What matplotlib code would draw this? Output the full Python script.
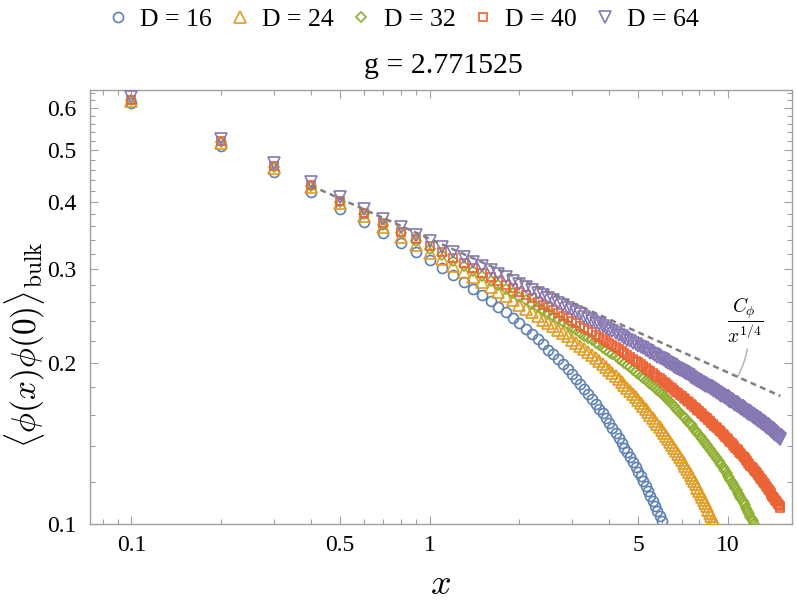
import matplotlib
matplotlib.use('Agg')
import matplotlib.pyplot as plt
from matplotlib.ticker import NullFormatter

plt.rcParams['font.family'] = ['Liberation Serif', 'DejaVu Serif']
plt.rcParams['mathtext.fontset'] = 'cm'

# sample positions (same grid for every bond dimension)
xGrid = [0.1, 0.2, 0.3, 0.4, 0.5, 0.6, 0.7, 0.8, 0.9, 1.0,
         1.1, 1.2, 1.3, 1.4, 1.5, 1.6, 1.7, 1.8, 1.9, 2.0,
         2.1, 2.2, 2.3, 2.4, 2.5, 2.6, 2.7, 2.8, 2.9, 3.0,
         3.1, 3.2, 3.3, 3.4, 3.5, 3.6, 3.7, 3.8, 3.9, 4.0,
         4.1, 4.2, 4.3, 4.4, 4.5, 4.6, 4.7, 4.8, 4.9, 5.0,
         5.1, 5.2, 5.3, 5.4, 5.5, 5.6, 5.7, 5.8, 5.9, 6.0,
         6.1, 6.2, 6.3, 6.4, 6.5, 6.6, 6.7, 6.8, 6.9, 7.0,
         7.1, 7.2, 7.3, 7.4, 7.5, 7.6, 7.7, 7.8, 7.9, 8.0,
         8.1, 8.2, 8.3, 8.4, 8.5, 8.6, 8.7, 8.8, 8.9, 9.0,
         9.1, 9.2, 9.3, 9.4, 9.5, 9.6, 9.7, 9.8, 9.9, 10.0,
         10.1, 10.2, 10.3, 10.4, 10.5, 10.6, 10.7, 10.8, 10.9, 11.0,
         11.1, 11.2, 11.3, 11.4, 11.5, 11.6, 11.7, 11.8, 11.9, 12.0,
         12.1, 12.2, 12.3, 12.4, 12.5, 12.6, 12.7, 12.8, 12.9, 13.0,
         13.1, 13.2, 13.3, 13.4, 13.5, 13.6, 13.7, 13.8, 13.9, 14.0,
         14.1, 14.2, 14.3, 14.4, 14.5, 14.6, 14.7, 14.8, 14.9, 15.0]

# correlator values (points below 0.1 are outside the frame)
corrD16 = [0.6124, 0.5098, 0.4557, 0.4182, 0.3889, 0.3671, 0.3501, 0.3356, 0.3232, 0.3115,
           0.3015, 0.2922, 0.2835, 0.2756, 0.2682, 0.2614, 0.2550, 0.2488, 0.2430, 0.2374,
           0.2319, 0.2267, 0.2216, 0.2166, 0.2119, 0.2075, 0.2032, 0.1991, 0.1950, 0.1910,
           0.1870, 0.1830, 0.1791, 0.1753, 0.1715, 0.1680, 0.1644, 0.1610, 0.1576, 0.1542,
           0.1510, 0.1479, 0.1449, 0.1419, 0.1389, 0.1361, 0.1333, 0.1306, 0.1279, 0.1253,
           0.1227, 0.1202, 0.1177, 0.1153, 0.1129, 0.1106, 0.1082, 0.1059, 0.1037, 0.1015]

corrD24 = [0.6187, 0.5166, 0.4627, 0.4259, 0.3975, 0.3759, 0.3590, 0.3448, 0.3323, 0.3213,
           0.3124, 0.3041, 0.2964, 0.2895, 0.2832, 0.2774, 0.2719, 0.2667, 0.2618, 0.2572,
           0.2529, 0.2489, 0.2449, 0.2411, 0.2376, 0.2341, 0.2308, 0.2275, 0.2243, 0.2213,
           0.2183, 0.2154, 0.2126, 0.2098, 0.2072, 0.2045, 0.2019, 0.1993, 0.1968, 0.1943,
           0.1918, 0.1893, 0.1869, 0.1845, 0.1821, 0.1797, 0.1774, 0.1751, 0.1728, 0.1705,
           0.1683, 0.1661, 0.1640, 0.1619, 0.1598, 0.1578, 0.1557, 0.1537, 0.1517, 0.1498,
           0.1479, 0.1460, 0.1441, 0.1422, 0.1404, 0.1386, 0.1368, 0.1351, 0.1333, 0.1316,
           0.1299, 0.1282, 0.1266, 0.1249, 0.1233, 0.1217, 0.1201, 0.1186, 0.1170, 0.1155,
           0.1139, 0.1124, 0.1109, 0.1094, 0.1079, 0.1064, 0.1050, 0.1035, 0.1020, 0.1007]

corrD32 = [0.6206, 0.5187, 0.4650, 0.4284, 0.4003, 0.3794, 0.3631, 0.3494, 0.3375, 0.3271,
           0.3185, 0.3105, 0.3032, 0.2966, 0.2906, 0.2851, 0.2799, 0.2750, 0.2704, 0.2661,
           0.2620, 0.2582, 0.2545, 0.2510, 0.2476, 0.2444, 0.2413, 0.2384, 0.2355, 0.2327,
           0.2301, 0.2276, 0.2251, 0.2227, 0.2204, 0.2182, 0.2160, 0.2138, 0.2117, 0.2097,
           0.2077, 0.2057, 0.2037, 0.2018, 0.1999, 0.1981, 0.1962, 0.1944, 0.1927, 0.1909,
           0.1892, 0.1875, 0.1858, 0.1842, 0.1826, 0.1810, 0.1794, 0.1778, 0.1762, 0.1747,
           0.1732, 0.1717, 0.1702, 0.1688, 0.1673, 0.1659, 0.1644, 0.1630, 0.1616, 0.1602,
           0.1588, 0.1575, 0.1561, 0.1548, 0.1535, 0.1522, 0.1508, 0.1495, 0.1482, 0.1470,
           0.1457, 0.1444, 0.1432, 0.1420, 0.1407, 0.1395, 0.1383, 0.1371, 0.1358, 0.1347,
           0.1335, 0.1323, 0.1312, 0.1300, 0.1289, 0.1277, 0.1266, 0.1254, 0.1243, 0.1232,
           0.1221, 0.1210, 0.1199, 0.1188, 0.1177, 0.1166, 0.1156, 0.1145, 0.1134, 0.1123,
           0.1113, 0.1103, 0.1093, 0.1083, 0.1073, 0.1062, 0.1052, 0.1042, 0.1032, 0.1022,
           0.1012, 0.1002]

corrD40 = [0.6218, 0.5202, 0.4668, 0.4302, 0.4023, 0.3817, 0.3657, 0.3523, 0.3407, 0.3305,
           0.3221, 0.3144, 0.3073, 0.3010, 0.2952, 0.2899, 0.2849, 0.2801, 0.2757, 0.2716,
           0.2677, 0.2641, 0.2606, 0.2573, 0.2541, 0.2511, 0.2482, 0.2453, 0.2426, 0.2400,
           0.2374, 0.2350, 0.2326, 0.2303, 0.2281, 0.2259, 0.2238, 0.2217, 0.2197, 0.2178,
           0.2159, 0.2140, 0.2122, 0.2104, 0.2087, 0.2070, 0.2053, 0.2036, 0.2020, 0.2005,
           0.1989, 0.1973, 0.1958, 0.1943, 0.1929, 0.1914, 0.1900, 0.1886, 0.1872, 0.1859,
           0.1845, 0.1832, 0.1819, 0.1807, 0.1794, 0.1782, 0.1769, 0.1758, 0.1745, 0.1734,
           0.1722, 0.1711, 0.1700, 0.1689, 0.1678, 0.1667, 0.1656, 0.1645, 0.1635, 0.1624,
           0.1614, 0.1604, 0.1594, 0.1585, 0.1575, 0.1566, 0.1556, 0.1546, 0.1537, 0.1528,
           0.1519, 0.1510, 0.1501, 0.1492, 0.1483, 0.1475, 0.1466, 0.1457, 0.1449, 0.1440,
           0.1432, 0.1423, 0.1415, 0.1407, 0.1398, 0.1390, 0.1382, 0.1374, 0.1365, 0.1357,
           0.1349, 0.1341, 0.1334, 0.1326, 0.1318, 0.1310, 0.1302, 0.1294, 0.1286, 0.1278,
           0.1271, 0.1264, 0.1257, 0.1250, 0.1243, 0.1235, 0.1228, 0.1221, 0.1214, 0.1206,
           0.1200, 0.1193, 0.1186, 0.1179, 0.1172, 0.1165, 0.1158, 0.1151, 0.1144, 0.1137,
           0.1130, 0.1124, 0.1117, 0.1111, 0.1104, 0.1098, 0.1091, 0.1085, 0.1079, 0.1072]

corrD64 = [0.6278, 0.5258, 0.4728, 0.4366, 0.4084, 0.3879, 0.3721, 0.3588, 0.3477, 0.3380,
           0.3299, 0.3224, 0.3156, 0.3094, 0.3039, 0.2988, 0.2939, 0.2894, 0.2852, 0.2813,
           0.2777, 0.2742, 0.2708, 0.2677, 0.2647, 0.2618, 0.2590, 0.2562, 0.2536, 0.2511,
           0.2488, 0.2465, 0.2443, 0.2422, 0.2401, 0.2381, 0.2362, 0.2343, 0.2325, 0.2308,
           0.2291, 0.2274, 0.2258, 0.2242, 0.2227, 0.2212, 0.2197, 0.2183, 0.2169, 0.2155,
           0.2142, 0.2129, 0.2116, 0.2103, 0.2091, 0.2079, 0.2067, 0.2056, 0.2044, 0.2033,
           0.2022, 0.2011, 0.2001, 0.1990, 0.1980, 0.1970, 0.1960, 0.1950, 0.1940, 0.1931,
           0.1921, 0.1913, 0.1904, 0.1896, 0.1887, 0.1879, 0.1870, 0.1861, 0.1853, 0.1845,
           0.1837, 0.1830, 0.1822, 0.1815, 0.1808, 0.1800, 0.1793, 0.1786, 0.1779, 0.1772,
           0.1765, 0.1758, 0.1751, 0.1745, 0.1738, 0.1732, 0.1725, 0.1719, 0.1713, 0.1707,
           0.1701, 0.1694, 0.1688, 0.1682, 0.1676, 0.1670, 0.1665, 0.1659, 0.1653, 0.1648,
           0.1642, 0.1636, 0.1630, 0.1625, 0.1619, 0.1614, 0.1608, 0.1603, 0.1597, 0.1592,
           0.1587, 0.1581, 0.1576, 0.1571, 0.1566, 0.1561, 0.1556, 0.1551, 0.1546, 0.1541,
           0.1536, 0.1530, 0.1525, 0.1520, 0.1515, 0.1510, 0.1505, 0.1500, 0.1495, 0.1490,
           0.1485, 0.1480, 0.1475, 0.1470, 0.1465, 0.1460, 0.1455, 0.1450, 0.1445, 0.1440]

bondDims = [16, 24, 32, 40, 64]
allCorr = [corrD16, corrD24, corrD32, corrD40, corrD64]

# C_phi / x^(1/4) guide, end points
guideX = [0.4, 15.0]
guideY = [0.4293, 0.1735]

xMajor = [0.1, 0.5, 1, 5, 10]
xMajorLabels = ['0.1', '0.5', '1', '5', '10']
xMinor = [0.08, 0.09, 0.2, 0.3, 0.4, 0.6, 0.7, 0.8, 0.9, 2, 3, 4, 6, 7, 8, 9]
yMajor = [0.1, 0.2, 0.3, 0.4, 0.5, 0.6]
yMajorLabels = ['0.1', '0.2', '0.3', '0.4', '0.5', '0.6']
yMinor = [0.12, 0.14, 0.16, 0.18, 0.22, 0.24, 0.26, 0.28, 0.32, 0.34, 0.36, 0.38,
          0.42, 0.44, 0.46, 0.48, 0.52, 0.54, 0.56, 0.58, 0.62, 0.64]

colors = ['#5E81B5', '#E19C24', '#8FB032', '#EB6235', '#8778B3']
markers = ['o', '^', 'D', 's', 'v']
markerSizes = [7.2, 8.0, 5.4, 6.4, 8.0]
frameColor = '#a0a0a0'

fig = plt.figure(figsize=(7.97, 6.13), dpi=100)
ax = fig.add_axes([0.1129, 0.1452, 0.8808, 0.7080])
ax.set_xscale('log')
ax.set_yscale('log')

for i in range(len(bondDims)):
    yVals = allCorr[i]
    ax.plot(xGrid[:len(yVals)], yVals, linestyle='none', marker=markers[i],
            markersize=markerSizes[i], markerfacecolor='none',
            markeredgecolor=colors[i], markeredgewidth=1.2,
            label='D = ' + str(bondDims[i]), zorder=2 + i)

ax.plot(guideX, guideY, color='#808080', linewidth=1.8,
        linestyle=(0, (2.4, 1.7)), dash_capstyle='butt', zorder=10)

ax.annotate(r'$\dfrac{C_\phi}{x^{1/4}}$', xy=(10.76, 0.1885), xytext=(11.45, 0.2407),
            ha='center', va='center', fontsize=14,
            arrowprops=dict(arrowstyle='-', color='#b5b5b5', linewidth=1.1,
                            connectionstyle='arc3,rad=-0.2', shrinkA=1, shrinkB=0))

ax.set_xlim(0.0726, 16.4)
ax.set_ylim(0.1, 0.648)

ax.set_xticks(xMajor)
ax.set_xticklabels(xMajorLabels)
ax.set_xticks(xMinor, minor=True)
ax.set_yticks(yMajor)
ax.set_yticklabels(yMajorLabels)
ax.set_yticks(yMinor, minor=True)
ax.xaxis.set_minor_formatter(NullFormatter())
ax.yaxis.set_minor_formatter(NullFormatter())

ax.tick_params(which='both', direction='in', top=True, right=True,
               color=frameColor, width=0.8, labelsize=17)
ax.tick_params(which='major', length=6)
ax.tick_params(which='minor', length=3.5)
ax.tick_params(axis='x', which='major', pad=8)
ax.tick_params(axis='y', which='major', pad=10)
for spine in ax.spines.values():
    spine.set_color(frameColor)
    spine.set_linewidth(1.0)

fig.text(443 / 797, 1 - 66 / 613, 'g = 2.771525', ha='center', va='center', fontsize=21.5)
fig.text(25 / 797, 1 - 345 / 613, r'$\langle\phi(x)\phi(0)\rangle_{\mathrm{bulk}}$',
         rotation=90, ha='center', va='center', fontsize=24)
fig.text(441 / 797, 1 - 585 / 613, r'$x$', ha='center', va='center', fontsize=26)

handles, labels = ax.get_legend_handles_labels()
fig.legend(handles, labels, loc='center', bbox_to_anchor=(402 / 797, 1 - 20 / 613),
           ncol=5, frameon=False, fontsize=18.5, numpoints=1, handlelength=1.0,
           handletextpad=0.36, columnspacing=0.58)

fig.savefig('out.png', dpi=100)
